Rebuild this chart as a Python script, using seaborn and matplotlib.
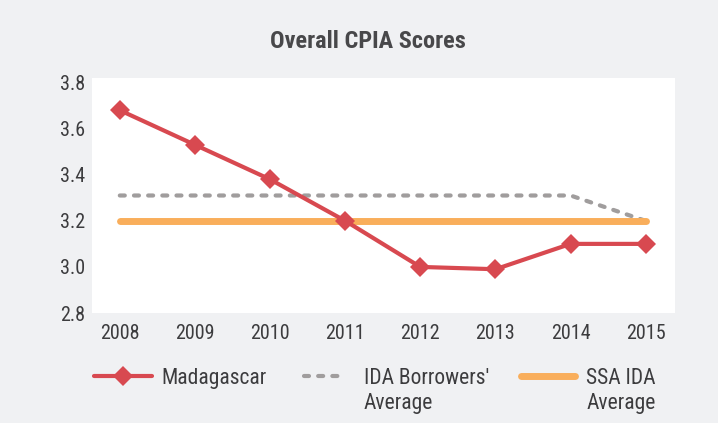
import seaborn as sns
import matplotlib.pyplot as plt
from matplotlib.legend_handler import HandlerLine2D

# chart values
years = [2008, 2009, 2010, 2011, 2012, 2013, 2014, 2015]
madagascar = [3.68, 3.53, 3.38, 3.20, 3.00, 2.99, 3.10, 3.10]
ida_borrowers = [3.31, 3.31, 3.31, 3.31, 3.31, 3.31, 3.31, 3.20]
ssa_ida = [3.20, 3.20, 3.20, 3.20, 3.20, 3.20, 3.20, 3.20]
labels = ["Madagascar", "IDA Borrowers'\nAverage", "SSA IDA\nAverage"]
y_ticks = [2.8, 3.0, 3.2, 3.4, 3.6, 3.8]

sns.set_style("white")
plt.rcParams['font.family'] = ['Roboto Condensed', 'Archivo Narrow', 'Asap Condensed', 'DejaVu Sans']
text_col = '#3c3c3e'
bg = '#f0f1f3'


class TopHandler(HandlerLine2D):
    # move the legend line up to the first text line, optionally shorten it
    def __init__(self, shift=0, frac=1.0, **kw):
        super().__init__(**kw)
        self.shift = shift
        self.frac = frac

    def create_artists(self, legend, orig_handle, xdescent, ydescent, width, height, fontsize, trans):
        arts = super().create_artists(legend, orig_handle, xdescent, ydescent, width, height, fontsize, trans)
        xc = -xdescent + width / 2
        for a in arts:
            a.set_xdata([xc + (x - xc) * self.frac for x in a.get_xdata()])
            a.set_ydata([y + self.shift for y in a.get_ydata()])
        return arts


fig = plt.figure(figsize=(7.18, 4.23), dpi=100, facecolor=bg)
ax = fig.add_axes([92 / 718, 1 - 313 / 423, (675 - 92) / 718, (313 - 78) / 423])
ax.set_facecolor('white')

sns.lineplot(x=years, y=madagascar, ax=ax, color='#d84950', lw=3, marker='D',
             markersize=10.5, markeredgewidth=0, label=labels[0], zorder=4)
sns.lineplot(x=years, y=ida_borrowers, ax=ax, color='#a09d9d', lw=3,
             label=labels[1], zorder=2)
ax.lines[-1].set_dashes([1.2, 2.2])
ax.lines[-1].set_dash_capstyle('round')
sns.lineplot(x=years, y=ssa_ida, ax=ax, color='#f9ae5b', lw=5,
             label=labels[2], zorder=3, solid_capstyle='round')

ax.set_xlim(2008 - 0.37, 2015 + 0.39)
ax.set_ylim(2.8, 3.82)
ax.set_yticks(y_ticks)
ax.set_yticklabels([f"{v:.1f}" for v in y_ticks])
ax.set_xticks(years)
ax.tick_params(axis='both', length=0, labelsize=14.5, labelcolor=text_col)
ax.tick_params(axis='x', pad=8)
ax.tick_params(axis='y', pad=5)
sns.despine(ax=ax, left=True, bottom=True)

fig.text(368 / 718, 1 - 41 / 423, "Overall CPIA Scores", ha='center', va='center',
         fontsize=17.5, fontweight='bold', color='#48484a')

handles = ax.lines[:3]
hmap = {handles[0]: TopHandler(11), handles[1]: TopHandler(11, 0.74), handles[2]: TopHandler(11, 0.95)}
leg_labels = [labels[0] + "\n "] + labels[1:]
leg = ax.legend(handles, leg_labels, loc='upper left', bbox_to_anchor=(-0.029, -0.15), ncol=3,
                frameon=False, fontsize=15.5, handlelength=2.65, columnspacing=1.4,
                handletextpad=0.46, labelcolor=text_col, handler_map=hmap)
for t in leg.get_texts():
    t.set_linespacing(1.3)

plt.savefig('out.png', dpi=100, facecolor=bg)
